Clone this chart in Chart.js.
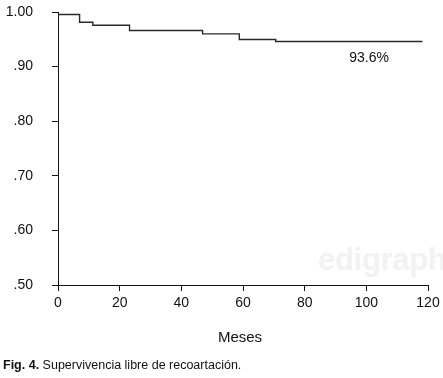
<!DOCTYPE html>
<html>
<head>
<meta charset="utf-8">
<script src="https://cdn.jsdelivr.net/npm/chart.js@4.4.1/dist/chart.umd.min.js"></script>
<style>
  html, body { margin: 0; padding: 0; background: #fff; }
  #wrap { position: relative; width: 443px; height: 378px; overflow: hidden; font-family: "Liberation Sans", Arial, Helvetica, sans-serif; }
  #c { position: absolute; left: 0; top: 0; }
  #wm { position: absolute; left: 318px; top: 242px; font-size: 31px; font-weight: bold; color: #f2f2f2; letter-spacing: -0.3px; }
  #xtitle { position: absolute; left: 0; width: 480px; top: 328px; text-align: center; font-size: 15px; color: #111; }
  #caption { position: absolute; left: 3px; top: 358px; font-size: 12.5px; color: #111; white-space: nowrap; }
</style>
</head>
<body>
<div id="wrap">
  <div id="wm">edigraph</div>
  <canvas id="c" width="443" height="378"></canvas>
  <div id="xtitle">Meses</div>
  <div id="caption"><b>Fig. 4.</b> Supervivencia libre de recoartación.</div>
</div>
<script>
// Kaplan-Meier step points (time in months, survival proportion)
const months   = [0, 7, 11.3, 23.2, 46.9, 58.8, 70.6, 118.2];
const survival = [0.9954, 0.9813, 0.9758, 0.966, 0.960, 0.9495, 0.946, 0.946];
const xTicks = [0, 20, 40, 60, 80, 100, 120];
const yTickValues = [0.5, 0.6, 0.7, 0.8, 0.9, 1.0];
const yTickLabels = ['.50', '.60', '.70', '.80', '.90', '1.00'];
const finalLabel = '93.6%';
const finalLabelPos = { x: 100.9, y: 0.9147 };

const FONT = '"Liberation Sans", Arial, Helvetica, sans-serif';

const labelPlugin = {
  id: 'finalLabel',
  afterDatasetsDraw(chart) {
    const { ctx, scales } = chart;
    const px = scales.x.getPixelForValue(finalLabelPos.x);
    const py = scales.y.getPixelForValue(finalLabelPos.y);
    ctx.save();
    ctx.font = '14px ' + FONT;
    ctx.fillStyle = '#111';
    ctx.textAlign = 'center';
    ctx.textBaseline = 'middle';
    ctx.fillText(finalLabel, px, py);
    ctx.restore();
  }
};

new Chart(document.getElementById('c'), {
  type: 'line',
  data: {
    datasets: [{
      data: months.map((m, i) => ({ x: m, y: survival[i] })),
      borderColor: '#2a2a2a',
      borderWidth: 1.4,
      pointRadius: 0,
      stepped: 'before',
      fill: false
    }]
  },
  options: {
    responsive: false,
    animation: false,
    layout: { padding: { top: 12, right: 15, bottom: 0, left: 0 } },
    plugins: { legend: { display: false }, tooltip: { enabled: false } },
    scales: {
      x: {
        type: 'linear',
        min: 0, max: 120,
        afterBuildTicks(scale) { scale.ticks = xTicks.map(v => ({ value: v })); },
        afterFit(scale) { scale.height = 93; scale.paddingLeft = 0; scale.paddingRight = 0; },
        ticks: { color: '#111', font: { family: FONT, size: 14 }, padding: 4, maxRotation: 0 },
        grid: { drawOnChartArea: false, drawTicks: true, tickLength: 6, color: '#111', lineWidth: 1 },
        border: { display: true, color: '#111', width: 1 }
      },
      y: {
        type: 'linear',
        min: 0.5, max: 1.0,
        afterBuildTicks(scale) { scale.ticks = yTickValues.map(v => ({ value: v })); },
        afterFit(scale) { scale.width = 58; scale.paddingTop = 0; scale.paddingBottom = 0; },
        ticks: {
          color: '#111', font: { family: FONT, size: 14 }, padding: 19,
          callback(v) {
            const i = yTickValues.findIndex(t => Math.abs(t - v) < 1e-6);
            return i >= 0 ? yTickLabels[i] : '';
          }
        },
        grid: { drawOnChartArea: false, drawTicks: true, tickLength: 6, color: '#111', lineWidth: 1 },
        border: { display: true, color: '#111', width: 1 }
      }
    }
  },
  plugins: [labelPlugin]
});
</script>
</body>
</html>
